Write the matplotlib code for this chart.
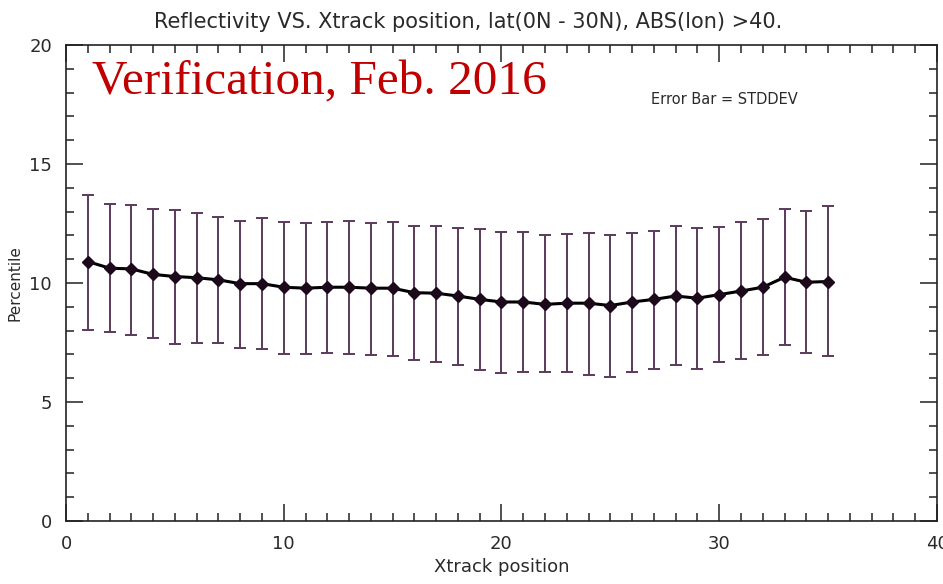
import matplotlib
matplotlib.use("Agg")
import matplotlib.pyplot as plt
from matplotlib.ticker import MultipleLocator

# ---- data ----
xtrack = list(range(1, 36))
mean_vals = [10.90, 10.62, 10.59, 10.36, 10.27, 10.22, 10.13, 9.97, 9.97, 9.82,
             9.78, 9.82, 9.82, 9.78, 9.78, 9.59, 9.57, 9.45, 9.31, 9.20,
             9.20, 9.10, 9.15, 9.15, 9.05, 9.20, 9.31, 9.45, 9.36, 9.51,
             9.66, 9.82, 10.24, 10.03, 10.06]
upper_vals = [13.70, 13.32, 13.28, 13.12, 13.07, 12.93, 12.77, 12.62, 12.72, 12.56,
              12.51, 12.56, 12.62, 12.51, 12.56, 12.41, 12.41, 12.31, 12.25, 12.15,
              12.16, 12.00, 12.06, 12.11, 12.00, 12.11, 12.20, 12.41, 12.31, 12.35,
              12.56, 12.68, 13.12, 13.03, 13.24]
lower_vals = [8.03, 7.93, 7.83, 7.69, 7.44, 7.48, 7.48, 7.28, 7.23, 7.03,
              7.03, 7.07, 7.03, 6.97, 6.92, 6.76, 6.67, 6.57, 6.36, 6.21,
              6.26, 6.26, 6.26, 6.15, 6.05, 6.26, 6.40, 6.57, 6.40, 6.67,
              6.82, 6.97, 7.38, 7.07, 6.92]

title = "Reflectivity VS. Xtrack position, lat(0N - 30N), ABS(lon) >40."
xlabel = "Xtrack position"
ylabel = "Percentile"
stamp = "Verification, Feb. 2016"
note = "Error Bar = STDDEV"

plt.rcParams["font.family"] = ["DejaVu Sans"]
txt = "#2a2a2a"

fig = plt.figure(figsize=(9.43, 5.84), dpi=100)
ax = fig.add_axes([0.070, 0.108, 0.9236, 0.815])

yerr = [[m - lo for m, lo in zip(mean_vals, lower_vals)],
        [up - m for m, up in zip(mean_vals, upper_vals)]]
ax.errorbar(xtrack, mean_vals, yerr=yerr, fmt="none", ecolor="#5b3a5b",
            elinewidth=1.4, capsize=4, capthick=1.4, zorder=2)
ax.plot(xtrack, mean_vals, color="black", lw=2.2, marker="D", ms=6,
        mfc="#1c0a1c", mec="#1c0a1c", zorder=3)

ax.set_xlim(0, 40)
ax.set_ylim(0, 20)
ax.xaxis.set_major_locator(MultipleLocator(10))
ax.xaxis.set_minor_locator(MultipleLocator(1))
ax.yaxis.set_major_locator(MultipleLocator(5))
ax.yaxis.set_minor_locator(MultipleLocator(1))
ax.tick_params(which="both", direction="in", top=True, right=True,
               color="#222222", width=1.1)
ax.tick_params(which="major", length=12, labelsize=13, pad=10,
               labelcolor=txt)
ax.tick_params(which="minor", length=6)
for sp in ax.spines.values():
    sp.set_linewidth(1.2)
    sp.set_color("#222222")

ax.set_title(title, fontsize=15, color=txt, pad=12, x=0.4615)
ax.set_xlabel(xlabel, fontsize=13, color=txt, labelpad=4)
ax.set_ylabel(ylabel, fontsize=11, color=txt, labelpad=5)

ax.text(0.030, 0.968, stamp, transform=ax.transAxes, fontsize=35.5,
        family="Liberation Serif", color="#c00000", va="top", ha="left")
ax.text(0.672, 0.885, note, transform=ax.transAxes, fontsize=10.5,
        color=txt, va="center", ha="left")

fig.savefig("out.png", dpi=100)
